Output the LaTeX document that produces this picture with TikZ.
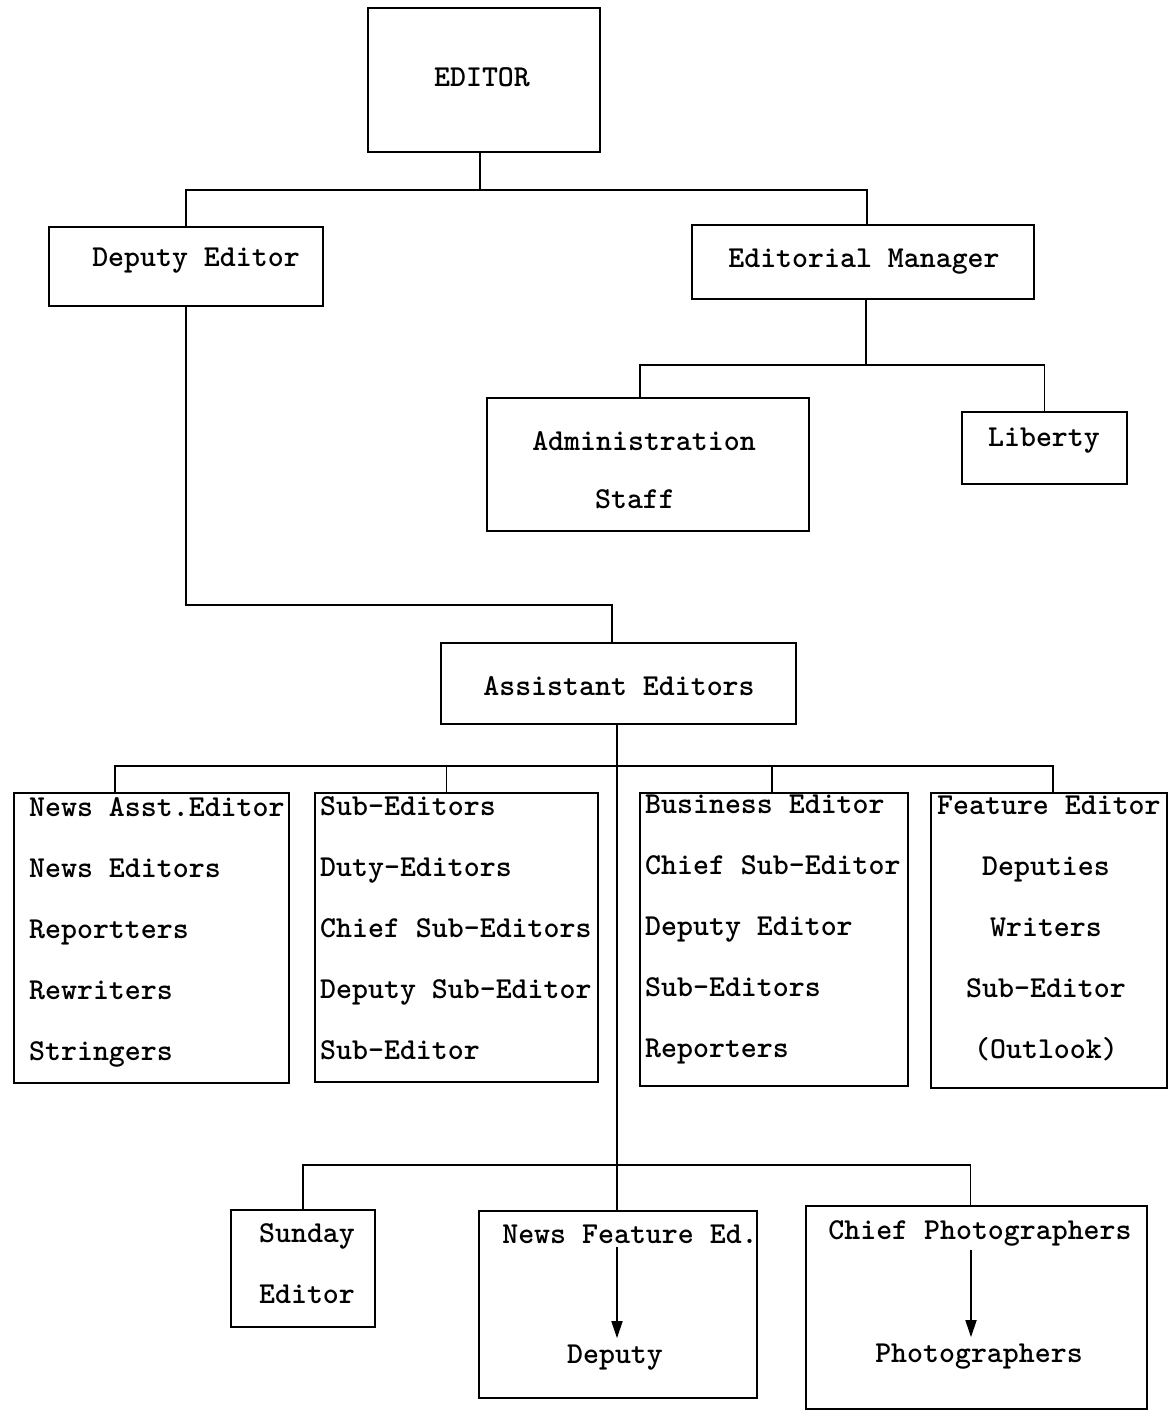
\documentclass[tikz,border=0pt]{standalone}
\usepackage{fontspec}
\usetikzlibrary{arrows.meta,calc}
\begin{document}
\begin{tikzpicture}[x=1pt,y=-1pt,
  box/.style={draw, line width=2pt, rectangle, inner sep=0pt, outer sep=0pt, anchor=north west},
  conn/.style={line width=1.8pt},
  lbl/.style={font=\ttfamily\bfseries\fontsize{30.4}{61}\selectfont, inner sep=0pt},
  lblL/.style={lbl, align=left, anchor=north west},
  lblC/.style={lbl, align=center, anchor=north},
  arr/.style={conn, -{Triangle[length=17pt,width=11pt]}}]
\useasboundingbox (0,0) rectangle (1173,1411);

% boxes
\node[box, minimum width=232, minimum height=144] (editor)   at (368,8)    {};
\node[box, minimum width=274, minimum height=79]  (deputy)   at (49,227)   {};
\node[box, minimum width=342, minimum height=74]  (manager)  at (692,225)  {};
\node[box, minimum width=322, minimum height=133] (admin)    at (487,398)  {};
\node[box, minimum width=165, minimum height=72]  (liberty)  at (962,412)  {};
\node[box, minimum width=355, minimum height=81]  (assist)   at (441,643)  {};
\node[box, minimum width=275, minimum height=290] (news)     at (14,793)   {};
\node[box, minimum width=283, minimum height=289] (sub)      at (315,793)  {};
\node[box, minimum width=268, minimum height=293] (business) at (640,793)  {};
\node[box, minimum width=236, minimum height=295] (feature)  at (931,793)  {};
\node[box, minimum width=144, minimum height=117] (sunday)   at (231,1210) {};
\node[box, minimum width=278, minimum height=187] (newsfeat) at (479,1211) {};
\node[box, minimum width=341, minimum height=203] (chief)    at (806,1206) {};

% texts
\node[lbl] (tEditor)  at (482,77)  {EDITOR};
\node[lbl] (tDeputy)  at (196,261) {Deputy Editor};
\node[lbl] (tManager) at (864,262) {Editorial Manager};
\node[lbl] (tAdmin)   at (644,441) {Administration};
\node[lbl] (tStaff)   at (635,499) {Staff};
\node[lbl] (tLiberty) at (1044,441) {Liberty};
\node[lbl] (tAssist)  at (619,686) {Assistant Editors};
\node[lblL] (tNews) at (29,797) {News Asst.Editor\\News Editors\\Reportters\\Rewriters\\Stringers};
\node[lblL] (tSub) at (320,796) {Sub-Editors\\Duty-Editors\\Chief Sub-Editors\\Deputy Sub-Editor\\Sub-Editor};
\node[lblL] (tBus) at (645,795) {Business Editor\\Chief Sub-Editor\\Deputy Editor\\Sub-Editors\\Reporters};
\node[lblL] (tFeat) at (937,796) {Feature Editor};
\node[lblC] (tFeat2) at (1046,857) {Deputies\\Writers\\Sub-Editor\\(Outlook)};
\node[lblC] (tSunday) at (307,1223) {Sunday\\Editor};
\node[lbl] (tNF)    at (630,1234) {News Feature Ed.};
\node[lbl] (tDep)   at (615,1358) {Deputy};
\node[lbl] (tChief) at (980,1233) {Chief Photographers};
\node[lbl] (tPhoto) at (979,1357) {Photographers};

% connectors
\coordinate (b1) at (480,190);
\draw[conn] (b1 |- editor.south) -- (b1);
\draw[conn] (deputy.north) |- (b1) -| ([xshift=4]manager.north);

\coordinate (b2) at (866,365);
\draw[conn] (b2 |- manager.south) -- (b2);
\draw[conn] ([xshift=-8]admin.north) |- (b2) -| (liberty.north);

\coordinate (b3) at (612,605);
\draw[conn] (deputy.south) |- (b3) -- (b3 |- assist.north);

\coordinate (b4) at (617,766);
\coordinate (b5) at (617,1165);
\draw[conn] (assist.south -| b4) -- (b5);
\coordinate (dNews) at ($(news.north west)+(101,0)$);
\coordinate (dFeat) at ($(feature.north west)+(122,0)$);
\draw[conn] (dNews) |- (b4) -| (dFeat);
\draw[conn] ([xshift=-10]sub.north) -- ([xshift=-10]sub.north |- b4);
\draw[conn] ([xshift=-2]business.north) -- ([xshift=-2]business.north |- b4);

\draw[conn] (sunday.north) |- (b5) -| ([xshift=-6]chief.north);
\draw[conn] (b5) -- (b5 |- newsfeat.north);

\coordinate (a1) at (617,0);
\coordinate (a2) at (971,0);
\draw[arr] ($(a1 |- tNF.south)+(0,3)$) -- ($(a1 |- tDep.north)+(0,-7)$);
\draw[arr] ($(a2 |- tChief.south)+(0,4)$) -- ($(a2 |- tPhoto.north)+(0,-7)$);
\end{tikzpicture}
\end{document}
